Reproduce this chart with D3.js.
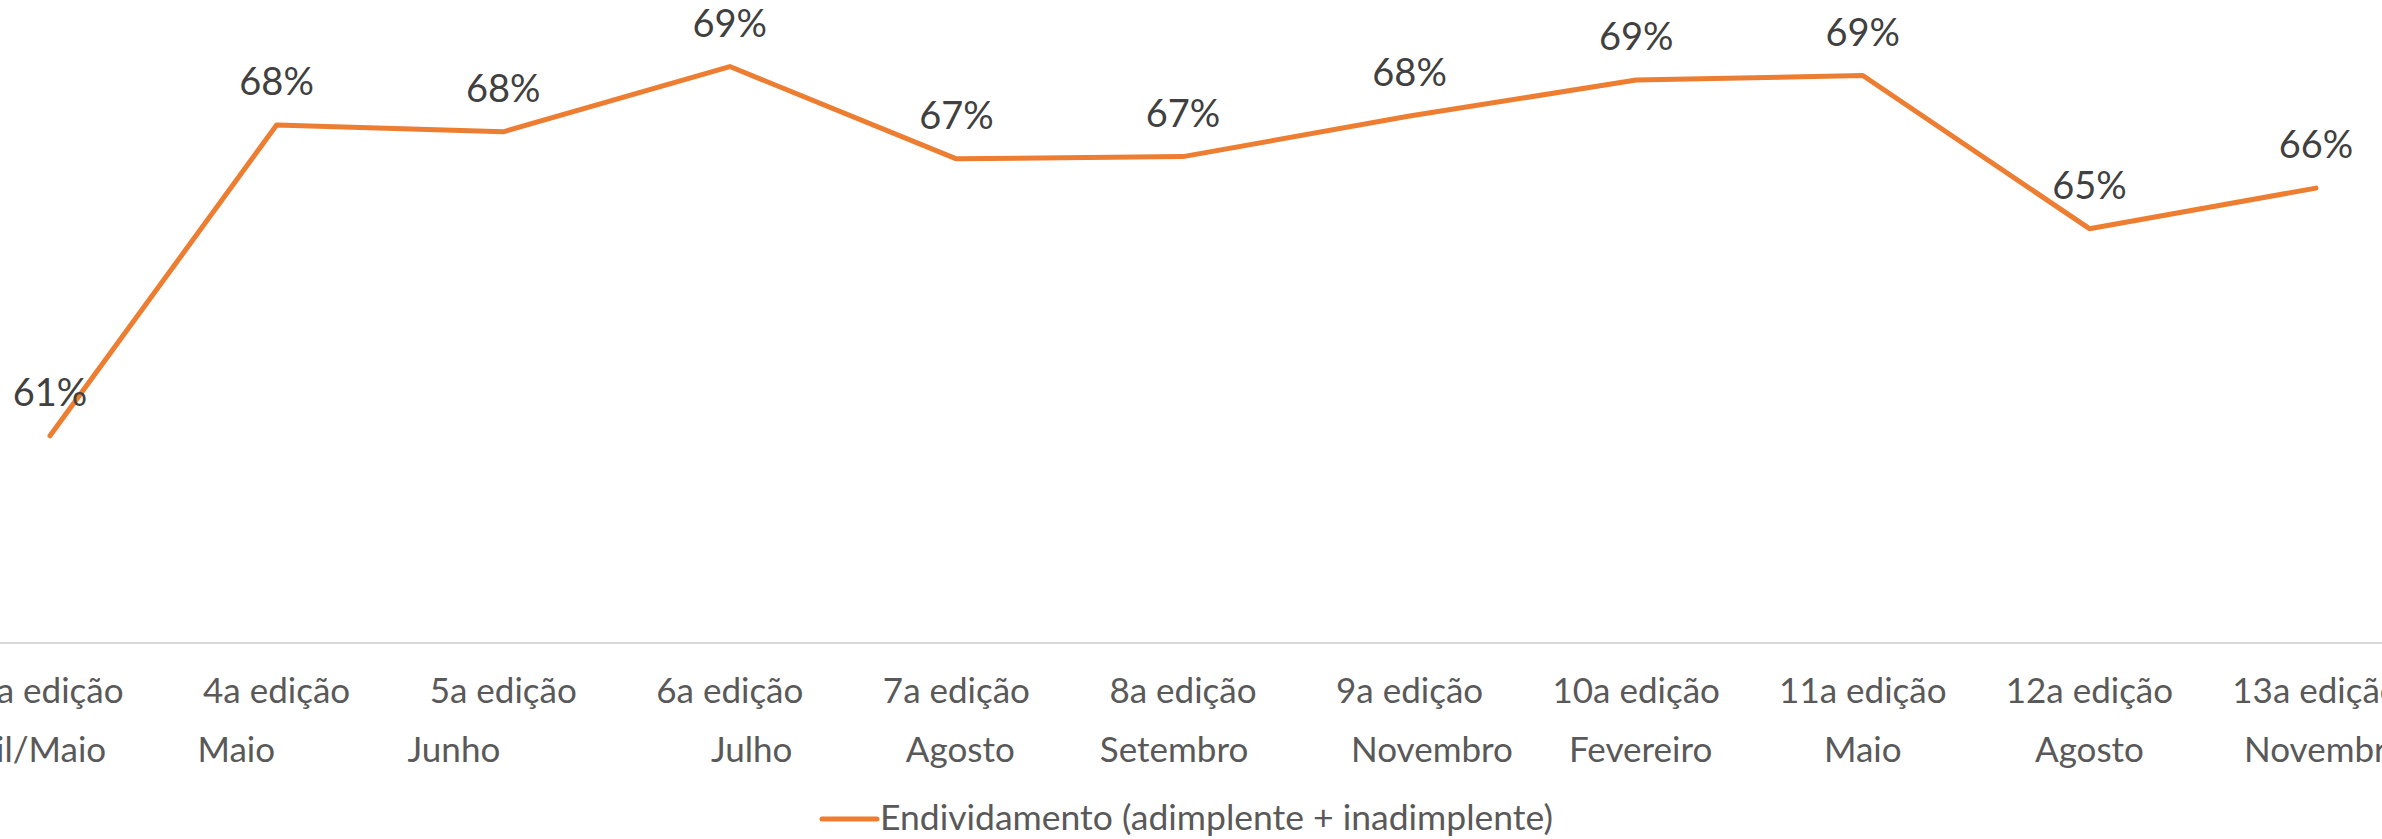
<!DOCTYPE html>
<html>
<head>
<meta charset="utf-8">
<script src="https://cdn.jsdelivr.net/npm/d3@7"></script>
<style>
  html, body { margin: 0; padding: 0; background: #fff; }
  svg { display: block; }
  text { font-family: Lato, "Open Sans", sans-serif; }
</style>
</head>
<body>
<div id="chart"></div>
<script>
// categories: edition + month (spaces kept as in the source labels)
const editions = ["3a edição", "4a edição", "5a edição", "6a edição", "7a edição", "8a edição",
  "9a edição", "10a edição", "11a edição", "12a edição", "13a edição"];
const months = ["Abril/Maio      ", "Maio         ", "Junho           ", "     Julho", " Agosto",
  "Setembro  ", "     Novembro", " Fevereiro", "Maio", "Agosto", "  Novembro"];
const endividamento = [60.8, 67.7, 67.55, 69.0, 66.95, 67.0, 67.9, 68.7, 68.8, 65.4, 66.3];
const seriesName = "Endividamento (adimplente + inadimplente)";

const width = 2382, height = 839;
const axisY = 643;

const svg = d3.select("#chart").append("svg")
  .attr("width", width)
  .attr("height", height)
  .attr("viewBox", [0, 0, width, height]);

const x = d3.scalePoint()
  .domain(editions)
  .range([50, 2316]);

const y = d3.scaleLinear()
  .domain([56.2, 70.3])
  .range([axisY, 8]);

// category axis
svg.append("line")
  .attr("x1", 0).attr("x2", width)
  .attr("y1", axisY).attr("y2", axisY)
  .attr("stroke", "#d9d9d9")
  .attr("stroke-width", 2);

const ticks = svg.append("g")
  .selectAll("g")
  .data(editions)
  .join("g")
  .attr("transform", d => `translate(${x(d)},0)`);

ticks.append("text")
  .attr("y", 703)
  .attr("text-anchor", "middle")
  .attr("fill", "#595959")
  .style("font-size", "35px")
  .text(d => d);

ticks.append("text")
  .attr("y", 762)
  .attr("text-anchor", "middle")
  .attr("fill", "#595959")
  .style("font-size", "35px")
  .style("white-space", "pre")
  .text((d, i) => months[i]);

// series line
const points = editions.map((e, i) => ({ cat: e, value: endividamento[i] }));

svg.append("path")
  .datum(points)
  .attr("fill", "none")
  .attr("stroke", "#ED7D31")
  .attr("stroke-width", 5)
  .attr("stroke-linejoin", "round")
  .attr("stroke-linecap", "round")
  .attr("d", d3.line()
    .x(d => x(d.cat))
    .y(d => y(d.value)));

// data labels
svg.append("g")
  .selectAll("text")
  .data(points)
  .join("text")
  .attr("x", d => x(d.cat))
  .attr("y", d => y(d.value) - 30)
  .attr("text-anchor", "middle")
  .attr("fill", "#404040")
  .style("font-size", "38px")
  .text(d => d3.format(".0f")(d.value) + "%");

// legend
const legend = svg.append("g").attr("transform", "translate(822,819)");
legend.append("line")
  .attr("x1", 0).attr("x2", 55)
  .attr("stroke", "#ED7D31")
  .attr("stroke-width", 5)
  .attr("stroke-linecap", "round");
legend.append("text")
  .attr("x", 58)
  .attr("y", 11)
  .attr("fill", "#595959")
  .style("font-size", "35.5px")
  .text(seriesName);
</script>
</body>
</html>
